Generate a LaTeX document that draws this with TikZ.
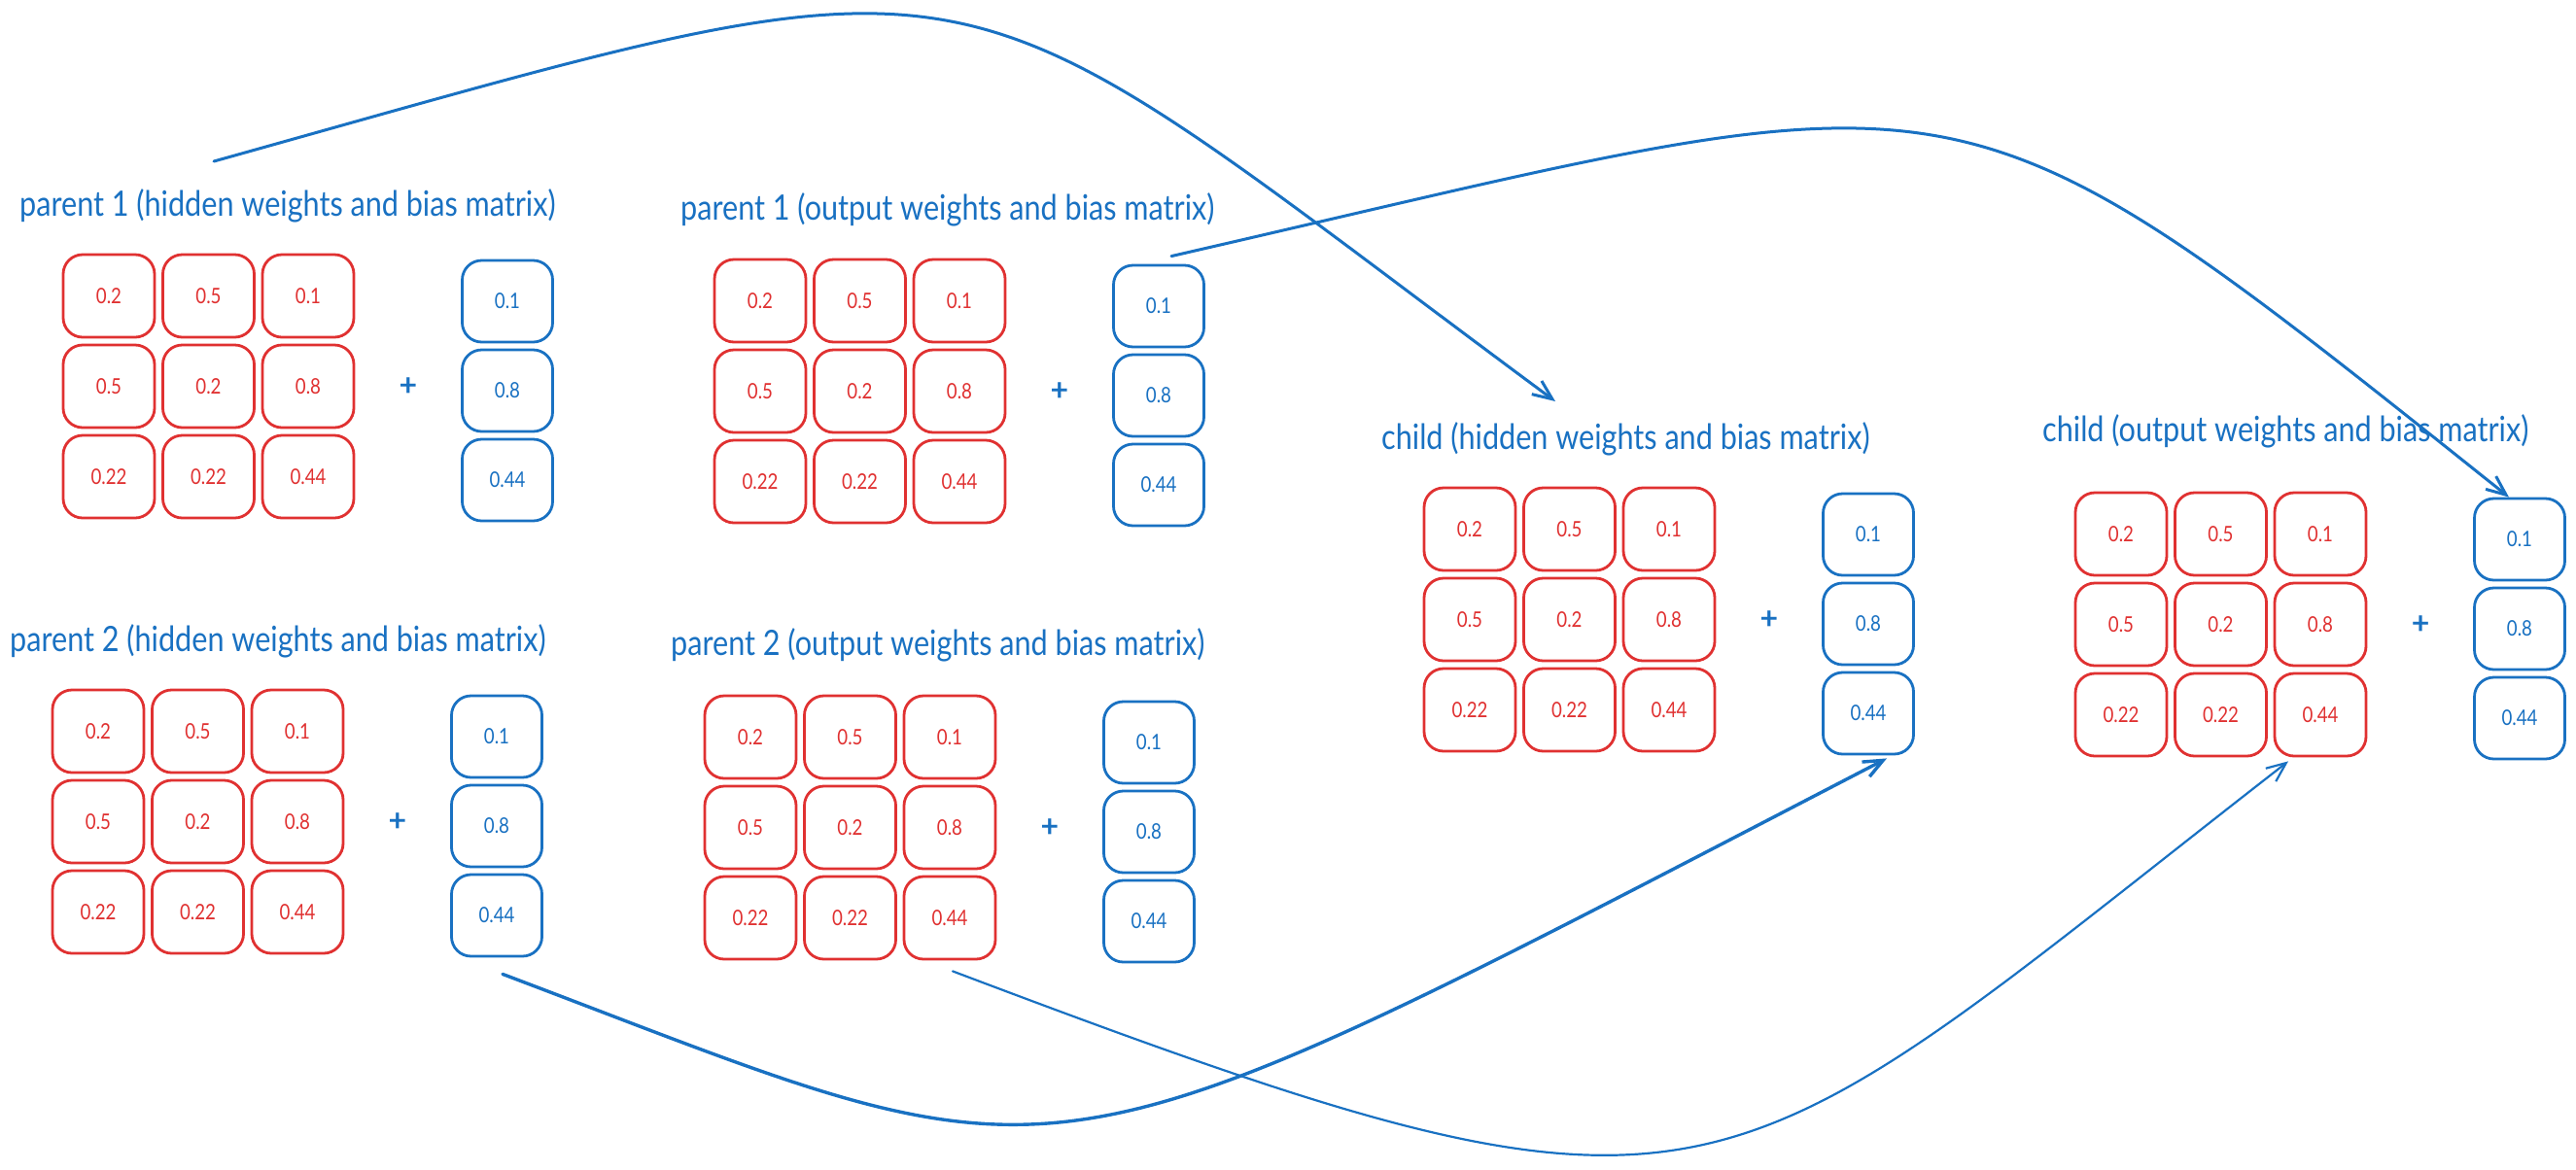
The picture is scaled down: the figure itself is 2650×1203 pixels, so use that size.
\documentclass[tikz,border=0pt]{standalone}
\usepackage{fontspec}
\setmainfont{Lato}
\newfontfamily\hand[FakeStretch=0.85]{Lato}
\usetikzlibrary{arrows.meta}
\definecolor{xred}{HTML}{E03131}
\definecolor{xblue}{HTML}{1971C2}
\newcommand\mgroup[3]{%
  \foreach \c/\r/\v in {1/1/0.2,2/1/0.5,3/1/0.1,1/2/0.5,2/2/0.2,3/2/0.8,1/3/0.22,2/3/0.22,3/3/0.44}
    \node[wbox] (#1-w\r\c) at ({#2+47+102.5*(\c-1)},{#3+42.5+93*(\r-1)}) {\v};
  \foreach \r/\v in {1/0.1,2/0.8,3/0.44}
    \node[bbox] (#1-b\r) at ({#2+457},{#3+48+92*(\r-1)}) {\v};
  \node[plussign] (#1-plus) at ({#2+355},{#3+136}) {+};
}
\begin{document}
\begin{tikzpicture}[x=1pt,y=-1pt,
  wbox/.style={draw=xred, line width=2.8pt, rounded corners=20pt, minimum width=94pt, minimum height=85pt, inner sep=0pt, text=xred, font=\hand\fontsize{22}{26}\selectfont},
  bbox/.style={wbox, draw=xblue, text=xblue, minimum width=93pt, minimum height=84pt},
  plussign/.style={text=xblue, inner sep=0pt, font=\fontsize{32}{34}\selectfont\bfseries},
  title/.style={anchor=base west, text=xblue, inner sep=0pt, font=\hand\fontsize{36}{42}\selectfont},
  link/.style={draw=xblue, line width=3pt, line cap=round, -{Straight Barb[length=20pt,width=17pt]}}
]
\useasboundingbox (0,0) rectangle (2650,1203);
\fill[white] (0,0) rectangle (2650,1203);

\node[title] (t-p1h) at (20,222) {parent 1 (hidden weights and bias matrix)};
\node[title] (t-p1o) at (700,226) {parent 1 (output weights and bias matrix)};
\node[title] (t-ch) at (1421,462) {child (hidden weights and bias matrix)};
\node[title] (t-co) at (2101,454) {child (output weights and bias matrix)};
\node[title] (t-p2h) at (10,670) {parent 2 (hidden weights and bias matrix)};
\node[title] (t-p2o) at (690,674) {parent 2 (output weights and bias matrix)};

\mgroup{p1h}{65}{262}
\mgroup{p1o}{735}{267}
\mgroup{ch}{1465}{502}
\mgroup{co}{2135}{507}
\mgroup{p2h}{54}{710}
\mgroup{p2o}{725}{716}

\coordinate (aS) at (220,166);
\coordinate (aE) at (1600,413);
\draw[link] (aS) .. controls (1050,-66) and (950,-68) .. (aE);
\draw[link] ([xshift=13pt,yshift=8pt]p1o-b1.north) .. controls (2040,72) and (1990,40) .. ([xshift=-11pt]co-b1.north);
\draw[link, line width=3.4pt] ([xshift=6pt,yshift=-17pt]p2h-b3.south) .. controls (1117,1229) and (1041,1247) .. ([xshift=19pt,yshift=-3pt]ch-b3.south);
\draw[link, line width=2.2pt] ([xshift=3pt,yshift=-11pt]p2o-w33.south) .. controls (1780,1302) and (1754,1250) .. ([xshift=-33pt,yshift=-4pt]co-w33.south);
\end{tikzpicture}
\end{document}
